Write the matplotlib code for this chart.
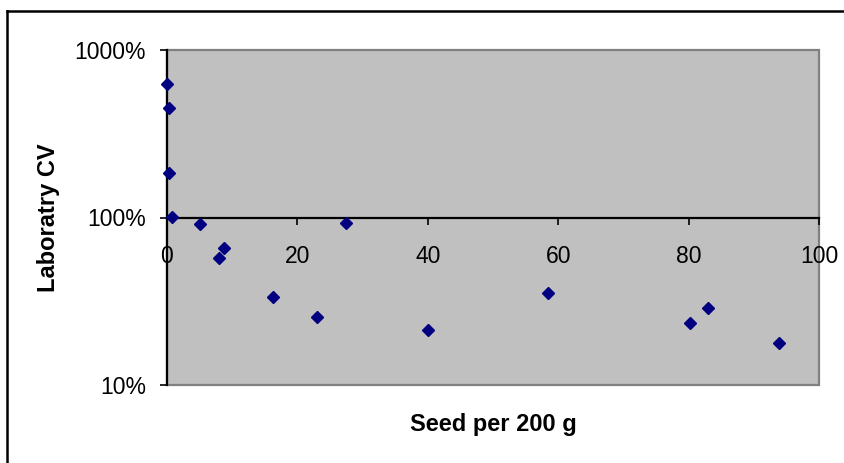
import matplotlib
matplotlib.use("Agg")
import matplotlib.pyplot as plt
from matplotlib.ticker import FixedLocator, NullLocator, FuncFormatter
from matplotlib.patches import Rectangle
from matplotlib.lines import Line2D

plt.rcParams['font.family'] = ['Liberation Sans', 'DejaVu Sans']

# seed counts and lab CV (in percent)
seed_per_200g = [0.05, 0.25, 0.25, 0.8, 5.1, 7.9, 8.8, 16.2, 23.0, 27.5,
                 40.0, 58.4, 80.2, 83.0, 93.8]
lab_cv_pct = [627, 451, 185, 101, 91, 57, 65.5, 33.7, 25.4, 92.7,
              21.3, 35.6, 23.5, 28.9, 17.9]

x_ticks = [0, 20, 40, 60, 80, 100]
y_ticks = [10, 100, 1000]

fig = plt.figure(figsize=(8.45, 4.63), dpi=100)
ax = fig.add_axes([167 / 845, 1 - 385 / 463, 652 / 845, 335 / 463])
ax.set_facecolor('#c0c0c0')

ax.plot(seed_per_200g, lab_cv_pct, linestyle='none', marker='D', markersize=5.8,
        color='#000080', markeredgecolor='#000080', clip_on=False, zorder=4)

ax.set_yscale('log')
ax.set_ylim(10, 1000)
ax.set_xlim(0, 100)
ax.yaxis.set_major_locator(FixedLocator(y_ticks))
ax.yaxis.set_minor_locator(NullLocator())
ax.yaxis.set_major_formatter(FuncFormatter(lambda v, p: f"{v:.0f}%"))
ax.xaxis.set_major_locator(FixedLocator(x_ticks))

# x axis crosses at 100%
ax.spines['bottom'].set_position(('data', 100))
ax.spines['bottom'].set_linewidth(1.6)
ax.spines['left'].set_linewidth(1.6)
ax.spines['top'].set_visible(False)
ax.spines['right'].set_visible(False)
ax.add_patch(Rectangle((0, 0), 1, 1, transform=ax.transAxes, fill=False,
                       edgecolor='#808080', linewidth=1.6, clip_on=False, zorder=1))

ax.tick_params(axis='x', direction='out', length=5, width=1.2, pad=14.5,
               labelsize=16.5, colors='black')
ax.tick_params(axis='y', direction='out', length=5, width=1.2, pad=10,
               labelsize=16.5, colors='black')

ax.set_xlabel('Seed per 200 g', fontsize=17, fontweight='bold')
ax.xaxis.set_label_coords(0.5, -0.083)
ax.set_ylabel('Laboratry CV', fontsize=17, fontweight='bold')
ax.yaxis.set_label_coords(-0.164, 0.5)

# chart border (top and left edges visible)
fig.add_artist(Line2D([7 / 845, 1.0], [1 - 11 / 463, 1 - 11 / 463],
                      transform=fig.transFigure, color='black', linewidth=1.8))
fig.add_artist(Line2D([7 / 845, 7 / 845], [0.0, 1 - 11 / 463],
                      transform=fig.transFigure, color='black', linewidth=1.8))

fig.savefig('out.png', dpi=100, facecolor='white')
